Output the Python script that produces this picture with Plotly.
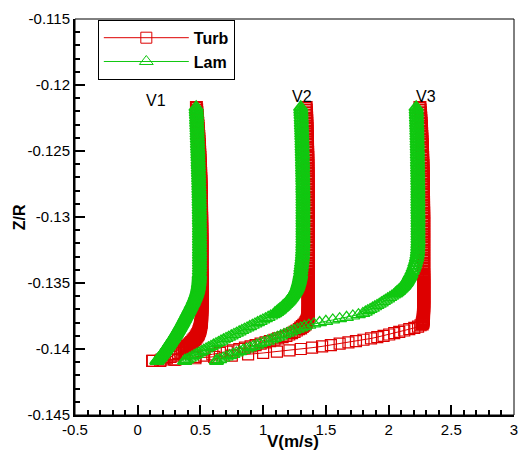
import plotly.graph_objects as go

# Z/R grid (shared by all profiles)
z_r = [
    -0.1217, -0.1219, -0.1221, -0.1223, -0.1225, -0.1227, -0.1229, -0.1231, -0.1233, -0.1235,
    -0.1237, -0.1239, -0.1241, -0.1243, -0.1245, -0.1247, -0.1249, -0.1251, -0.1253, -0.1255,
    -0.1257, -0.1259, -0.1261, -0.1263, -0.1265, -0.1267, -0.1269, -0.1271, -0.1273, -0.1275,
    -0.1277, -0.1279, -0.1281, -0.1283, -0.1285, -0.1287, -0.1289, -0.1291, -0.1293, -0.1295,
    -0.1297, -0.1299, -0.1301, -0.1303, -0.1305, -0.1307, -0.1309, -0.1311, -0.1313, -0.1315,
    -0.1317, -0.1319, -0.1321, -0.1323, -0.1325, -0.1327, -0.1329, -0.1331, -0.1333, -0.1335,
    -0.1337, -0.1339, -0.1341, -0.1343,
    -0.1344, -0.1345, -0.1346, -0.1347, -0.1348, -0.1349, -0.1350, -0.1351, -0.1352, -0.1353,
    -0.1354, -0.1355, -0.1356, -0.1357, -0.1358, -0.1359, -0.1360, -0.1361, -0.1362, -0.1363,
    -0.1364, -0.1365, -0.1366, -0.1367, -0.1368, -0.1369, -0.1370, -0.1371, -0.1372, -0.1373,
    -0.1374, -0.1375, -0.1376, -0.1377, -0.1378, -0.1379, -0.1380, -0.1381, -0.1382, -0.1383,
    -0.1384, -0.1385, -0.1386, -0.1387, -0.1388, -0.1389, -0.1390, -0.1391, -0.1392, -0.1393,
    -0.1394, -0.1395, -0.1396, -0.1397, -0.1398, -0.1399, -0.1400, -0.1401, -0.1402, -0.1403,
    -0.1404, -0.1405, -0.1406, -0.1407, -0.1408, -0.1409]

v1_lam = [
    0.466, 0.467, 0.468, 0.469, 0.470, 0.470, 0.471, 0.472, 0.473, 0.474,
    0.474, 0.475, 0.476, 0.477, 0.477, 0.478, 0.479, 0.480, 0.480, 0.481,
    0.482, 0.482, 0.483, 0.484, 0.484, 0.485, 0.486, 0.486, 0.487, 0.487,
    0.488, 0.488, 0.489, 0.489, 0.490, 0.490, 0.490, 0.491, 0.491, 0.491,
    0.492, 0.492, 0.492, 0.492, 0.493, 0.493, 0.493, 0.493, 0.493, 0.493,
    0.493, 0.493, 0.493, 0.493, 0.493, 0.493, 0.493, 0.493, 0.493, 0.493,
    0.493, 0.493, 0.492, 0.492,
    0.491, 0.491, 0.490, 0.490, 0.489, 0.488, 0.487, 0.485, 0.484, 0.482,
    0.480, 0.478, 0.475, 0.472, 0.469, 0.465, 0.461, 0.457, 0.453, 0.448,
    0.444, 0.439, 0.434, 0.428, 0.423, 0.418, 0.413, 0.407, 0.402, 0.396,
    0.391, 0.385, 0.380, 0.374, 0.369, 0.363, 0.358, 0.352, 0.346, 0.340,
    0.334, 0.328, 0.322, 0.316, 0.310, 0.303, 0.297, 0.290, 0.283, 0.276,
    0.269, 0.262, 0.255, 0.248, 0.241, 0.234, 0.227, 0.220, 0.212, 0.205,
    0.197, 0.189, 0.181, 0.172, 0.163, 0.153]

v1_turb = [
    0.468, 0.470, 0.472, 0.474, 0.476, 0.477, 0.479, 0.481, 0.482, 0.484,
    0.485, 0.487, 0.488, 0.489, 0.491, 0.492, 0.493, 0.494, 0.495, 0.496,
    0.497, 0.498, 0.499, 0.500, 0.501, 0.502, 0.502, 0.503, 0.504, 0.504,
    0.505, 0.505, 0.506, 0.506, 0.507, 0.507, 0.508, 0.508, 0.508, 0.509,
    0.509, 0.509, 0.510, 0.510, 0.510, 0.510, 0.511, 0.511, 0.511, 0.511,
    0.512, 0.512, 0.512, 0.512, 0.512, 0.512, 0.512, 0.512, 0.512, 0.512,
    0.512, 0.512, 0.512, 0.512,
    0.512, 0.512, 0.512, 0.512, 0.512, 0.512, 0.512, 0.512, 0.512, 0.512,
    0.512, 0.512, 0.512, 0.512, 0.512, 0.512, 0.512, 0.512, 0.512, 0.512,
    0.512, 0.512, 0.512, 0.511, 0.511, 0.511, 0.511, 0.510, 0.510, 0.510,
    0.510, 0.510, 0.509, 0.509, 0.508, 0.507, 0.506, 0.504, 0.502, 0.500,
    0.498, 0.495, 0.492, 0.488, 0.484, 0.479, 0.473, 0.466, 0.458, 0.449,
    0.440, 0.430, 0.419, 0.408, 0.396, 0.384, 0.370, 0.355, 0.339, 0.322,
    0.304, 0.285, 0.262, 0.232, 0.190, 0.115]

v2_lam = [
    1.300, 1.301, 1.302, 1.303, 1.304, 1.305, 1.305, 1.306, 1.307, 1.308,
    1.308, 1.309, 1.310, 1.310, 1.311, 1.311, 1.312, 1.312, 1.313, 1.313,
    1.314, 1.314, 1.315, 1.315, 1.315, 1.316, 1.316, 1.316, 1.317, 1.317,
    1.317, 1.317, 1.318, 1.318, 1.318, 1.318, 1.318, 1.318, 1.318, 1.318,
    1.318, 1.318, 1.318, 1.318, 1.318, 1.318, 1.318, 1.318, 1.318, 1.318,
    1.318, 1.318, 1.317, 1.317, 1.316, 1.315, 1.314, 1.312, 1.310, 1.307,
    1.305, 1.302, 1.300, 1.298,
    1.297, 1.295, 1.293, 1.291, 1.289, 1.286, 1.283, 1.280, 1.277, 1.274,
    1.270, 1.265, 1.259, 1.253, 1.246, 1.239, 1.232, 1.225, 1.217, 1.209,
    1.200, 1.190, 1.180, 1.169, 1.158, 1.146, 1.134, 1.121, 1.108, 1.094,
    1.080, 1.060, 1.040, 1.019, 0.998, 0.977, 0.956, 0.935, 0.914, 0.893,
    0.872, 0.851, 0.830, 0.809, 0.788, 0.767, 0.746, 0.725, 0.704, 0.684,
    0.664, 0.644, 0.624, 0.604, 0.584, 0.564, 0.545, 0.526, 0.507, 0.488,
    0.469, 0.450, 0.431, 0.412, 0.393, 0.375]

v2_turb = [
    1.343, 1.344, 1.345, 1.346, 1.347, 1.348, 1.348, 1.349, 1.350, 1.350,
    1.351, 1.352, 1.352, 1.353, 1.353, 1.354, 1.354, 1.355, 1.355, 1.356,
    1.356, 1.356, 1.357, 1.357, 1.357, 1.358, 1.358, 1.358, 1.358, 1.359,
    1.359, 1.359, 1.359, 1.359, 1.359, 1.359, 1.359, 1.359, 1.359, 1.359,
    1.360, 1.360, 1.360, 1.360, 1.360, 1.360, 1.360, 1.360, 1.360, 1.360,
    1.360, 1.360, 1.360, 1.360, 1.360, 1.360, 1.360, 1.360, 1.360, 1.360,
    1.360, 1.360, 1.360, 1.360,
    1.360, 1.360, 1.360, 1.360, 1.360, 1.360, 1.360, 1.360, 1.360, 1.360,
    1.360, 1.360, 1.360, 1.360, 1.360, 1.360, 1.360, 1.360, 1.360, 1.360,
    1.360, 1.360, 1.360, 1.360, 1.360, 1.360, 1.360, 1.360, 1.359, 1.359,
    1.358, 1.358, 1.357, 1.355, 1.352, 1.348, 1.342, 1.335, 1.324, 1.312,
    1.299, 1.285, 1.268, 1.250, 1.230, 1.208, 1.185, 1.155, 1.120, 1.090,
    1.055, 1.020, 0.980, 0.940, 0.900, 0.855, 0.810, 0.760, 0.710, 0.655,
    0.595, 0.530, 0.460, 0.380, 0.290, 0.180]

v3_lam = [
    2.220, 2.221, 2.222, 2.222, 2.223, 2.224, 2.224, 2.225, 2.226, 2.226,
    2.227, 2.227, 2.228, 2.228, 2.229, 2.229, 2.230, 2.230, 2.230, 2.231,
    2.231, 2.231, 2.232, 2.232, 2.232, 2.233, 2.233, 2.233, 2.233, 2.234,
    2.234, 2.234, 2.234, 2.234, 2.234, 2.234, 2.234, 2.234, 2.234, 2.234,
    2.235, 2.235, 2.235, 2.235, 2.235, 2.235, 2.235, 2.235, 2.235, 2.235,
    2.235, 2.235, 2.234, 2.233, 2.232, 2.230, 2.227, 2.223, 2.218, 2.211,
    2.205, 2.197, 2.188, 2.178,
    2.173, 2.168, 2.163, 2.157, 2.151, 2.145, 2.138, 2.130, 2.122, 2.112,
    2.102, 2.092, 2.080, 2.068, 2.055, 2.040, 2.025, 2.010, 1.993, 1.975,
    1.960, 1.943, 1.926, 1.908, 1.890, 1.872, 1.853, 1.834, 1.815, 1.795,
    1.760, 1.715, 1.665, 1.610, 1.555, 1.500, 1.450, 1.405, 1.365, 1.330,
    1.300, 1.272, 1.245, 1.218, 1.192, 1.166, 1.140, 1.115, 1.090, 1.065,
    1.035, 1.005, 0.975, 0.948, 0.921, 0.894, 0.867, 0.840, 0.813, 0.786,
    0.760, 0.733, 0.706, 0.680, 0.654, 0.628]

v3_turb = [
    2.250, 2.252, 2.254, 2.255, 2.257, 2.258, 2.260, 2.261, 2.262, 2.263,
    2.264, 2.265, 2.266, 2.267, 2.268, 2.269, 2.270, 2.270, 2.271, 2.272,
    2.272, 2.273, 2.274, 2.274, 2.275, 2.275, 2.276, 2.276, 2.276, 2.277,
    2.277, 2.277, 2.278, 2.278, 2.278, 2.278, 2.279, 2.279, 2.279, 2.279,
    2.280, 2.280, 2.280, 2.280, 2.280, 2.280, 2.280, 2.280, 2.280, 2.280,
    2.280, 2.280, 2.280, 2.280, 2.280, 2.280, 2.280, 2.280, 2.280, 2.280,
    2.280, 2.280, 2.280, 2.280,
    2.280, 2.280, 2.280, 2.280, 2.280, 2.280, 2.280, 2.280, 2.280, 2.280,
    2.280, 2.280, 2.280, 2.280, 2.280, 2.280, 2.280, 2.280, 2.280, 2.280,
    2.280, 2.280, 2.280, 2.280, 2.280, 2.280, 2.279, 2.279, 2.279, 2.279,
    2.278, 2.278, 2.277, 2.277, 2.276, 2.275, 2.273, 2.268, 2.255, 2.235,
    2.205, 2.165, 2.125, 2.085, 2.045, 2.005, 1.960, 1.910, 1.860, 1.800,
    1.740, 1.680, 1.610, 1.540, 1.470, 1.390, 1.300, 1.210, 1.110, 1.000,
    0.880, 0.750, 0.610, 0.460, 0.300, 0.120]

profile_labels = ["V1", "V2", "V3"]
x_tickvals = [-0.5, 0, 0.5, 1, 1.5, 2, 2.5, 3]
x_ticktext = ["-0.5", "0", "0.5", "1", "1.5", "2", "2.5", "3"]
y_tickvals = [-0.145, -0.14, -0.135, -0.13, -0.125, -0.12, -0.115]
y_ticktext = ["-0.145", "-0.14", "-0.135", "-0.13", "-0.125", "-0.12", "-0.115"]

RED = "#dd0000"
GREEN = "#10c810"
FONT = "Liberation Sans, Arial, Helvetica, sans-serif"


def edge_widths(v):
    # thicker outlines where markers stack densely (near-vertical part), thin where sparse
    out = []
    for k in range(len(v)):
        a = v[k - 1] if k > 0 else v[k]
        b = v[k + 1] if k < len(v) - 1 else v[k]
        out.append(2.0 if abs(b - a) < 0.03 else 1.2)
    return out


fig = go.Figure()
for v in [v1_turb, v2_turb, v3_turb]:
    fig.add_trace(go.Scatter(
        x=v, y=z_r, mode="lines+markers", name="Turb", showlegend=False,
        line=dict(color=RED, width=1),
        marker=dict(symbol="square-open", size=11, color=RED,
                    line=dict(width=edge_widths(v), color=RED)),
    ))
for v in [v1_lam, v2_lam, v3_lam]:
    fig.add_trace(go.Scatter(
        x=v, y=z_r, mode="lines+markers", name="Lam", showlegend=False,
        line=dict(color=GREEN, width=1),
        marker=dict(symbol="triangle-up-open", size=12, color=GREEN,
                    line=dict(width=edge_widths(v), color=GREEN)),
    ))

# legend entries (thin-outlined symbols as in the reference)
fig.add_trace(go.Scatter(x=[None], y=[None], mode="lines+markers", name="Turb",
                         line=dict(color=RED, width=1),
                         marker=dict(symbol="square-open", size=11, color=RED,
                                     line=dict(width=1, color=RED))))
fig.add_trace(go.Scatter(x=[None], y=[None], mode="lines+markers", name="Lam",
                         line=dict(color=GREEN, width=1),
                         marker=dict(symbol="triangle-up-open", size=12, color=GREEN,
                                     line=dict(width=1, color=GREEN))))

# profile labels
label_pos = [(0.142, -0.12119), (1.311, -0.12085), (2.30, -0.12090)]
for txt, (lx, ly) in zip(profile_labels, label_pos):
    fig.add_annotation(x=lx, y=ly, text=txt, showarrow=False,
                       font=dict(family=FONT, size=16, color="black"),
                       xanchor="center", yanchor="middle")

# axis titles
fig.add_annotation(xref="paper", yref="paper", x=0.497, y=-0.0675, text="<b>V(m/s)</b>",
                   showarrow=False, font=dict(family=FONT, size=17, color="black"),
                   xanchor="center", yanchor="middle")
fig.add_annotation(xref="paper", yref="paper", x=-0.127, y=0.5, text="<b>Z/R</b>", textangle=-90,
                   showarrow=False, font=dict(family=FONT, size=16, color="black"),
                   xanchor="center", yanchor="middle")

fig.add_shape(type="rect", xref="paper", yref="paper", x0=0, y0=0, x1=1, y1=1,
              line=dict(color="black", width=1), layer="above")

axis_common = dict(
    showgrid=False, zeroline=False, showline=True, linecolor="black", linewidth=2,
    ticks="inside", ticklen=10, tickwidth=2, tickcolor="black",
    tickfont=dict(family=FONT, size=15, color="black"),
)
fig.update_xaxes(range=[-0.5, 3], tickmode="array", tickvals=x_tickvals, ticktext=x_ticktext,
                 minor=dict(tickmode="linear", tick0=-0.5, dtick=0.1, ticks="inside", ticklen=5,
                            tickwidth=1.5, tickcolor="black", showgrid=False),
                 **axis_common)
fig.update_yaxes(range=[-0.145, -0.115], tickmode="array", tickvals=y_tickvals, ticktext=y_ticktext,
                 minor=dict(tickmode="linear", tick0=-0.145, dtick=0.001, ticks="inside", ticklen=5,
                            tickwidth=1.5, tickcolor="black", showgrid=False),
                 **axis_common)

fig.update_layout(
    width=528, height=459,
    margin=dict(l=75, r=10, t=15, b=44),
    paper_bgcolor="white", plot_bgcolor="white",
    font=dict(family=FONT, color="black"),
    showlegend=True,
    legend=dict(x=0.052, y=0.998, xanchor="left", yanchor="top",
                bgcolor="white", bordercolor="black", borderwidth=1,
                itemwidth=85, font=dict(family=FONT, size=16, color="black", weight="bold"),
                tracegroupgap=0, traceorder="normal"),
)

fig.write_html("out.html")
